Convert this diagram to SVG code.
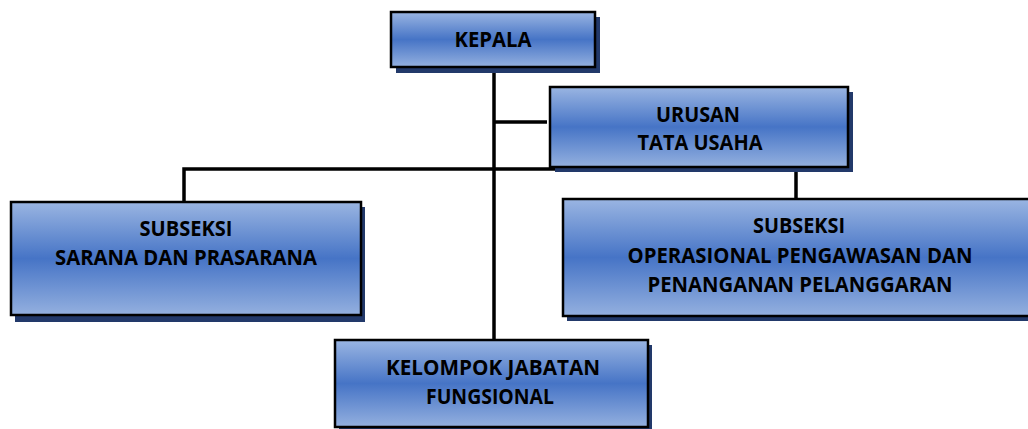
<svg xmlns="http://www.w3.org/2000/svg" width="1028" height="429" viewBox="0 0 1028 429">
<defs>
<linearGradient id="g" x1="0" y1="0" x2="0" y2="1">
<stop offset="0" stop-color="#9ab5e2"/>
<stop offset="0.5" stop-color="#4674c6"/>
<stop offset="1" stop-color="#94b0df"/>
</linearGradient>
</defs>
<style>
.box{fill:url(#g);stroke:#000;stroke-width:2.5}
.sh{fill:#22396a}
.t{font-family:"Open Sans","Liberation Sans",sans-serif;font-weight:bold;font-size:21px;fill:#000;text-anchor:middle}
.c{stroke:#000;stroke-width:3.5;fill:none}
</style>
<g id="connectors">
<line class="c" x1="494" y1="67" x2="494" y2="341"/>
<line class="c" x1="494" y1="122" x2="547" y2="122"/>
<polyline class="c" points="184,202 184,169 796,169 796,200"/>
</g>
<g id="kepala">
<rect class="sh" x="396" y="17" width="204" height="56"/>
<rect class="box" x="391" y="12" width="204" height="55"/>
<text class="t" x="493" y="47" textLength="77" lengthAdjust="spacingAndGlyphs">KEPALA</text>
</g>
<g id="urusan">
<rect class="sh" x="555" y="92" width="298" height="80"/>
<rect class="box" x="550" y="87" width="298" height="80"/>
<text class="t" x="698" y="122" textLength="84" lengthAdjust="spacingAndGlyphs">URUSAN</text>
<text class="t" x="700" y="150" textLength="125" lengthAdjust="spacingAndGlyphs">TATA USAHA</text>
</g>
<g id="sarana">
<rect class="sh" x="15" y="207" width="350" height="115"/>
<rect class="box" x="11" y="202" width="350" height="113"/>
<text class="t" x="186" y="236" textLength="93" lengthAdjust="spacingAndGlyphs">SUBSEKSI</text>
<text class="t" x="186" y="265" textLength="262" lengthAdjust="spacingAndGlyphs">SARANA DAN PRASARANA</text>
</g>
<g id="operasional">
<rect class="sh" x="567" y="204" width="480" height="117"/>
<rect class="box" x="563" y="199" width="480" height="117"/>
<text class="t" x="799" y="233" textLength="92" lengthAdjust="spacingAndGlyphs">SUBSEKSI</text>
<text class="t" x="800" y="263" textLength="345" lengthAdjust="spacingAndGlyphs">OPERASIONAL PENGAWASAN DAN</text>
<text class="t" x="800" y="292" textLength="305" lengthAdjust="spacingAndGlyphs">PENANGANAN PELANGGARAN</text>
</g>
<g id="kelompok">
<rect class="sh" x="339" y="345" width="313" height="87"/>
<rect class="box" x="335" y="340" width="313" height="87"/>
<text class="t" x="493" y="375" textLength="214" lengthAdjust="spacingAndGlyphs">KELOMPOK JABATAN</text>
<text class="t" x="490" y="404" textLength="128" lengthAdjust="spacingAndGlyphs">FUNGSIONAL</text>
</g>
</svg>
